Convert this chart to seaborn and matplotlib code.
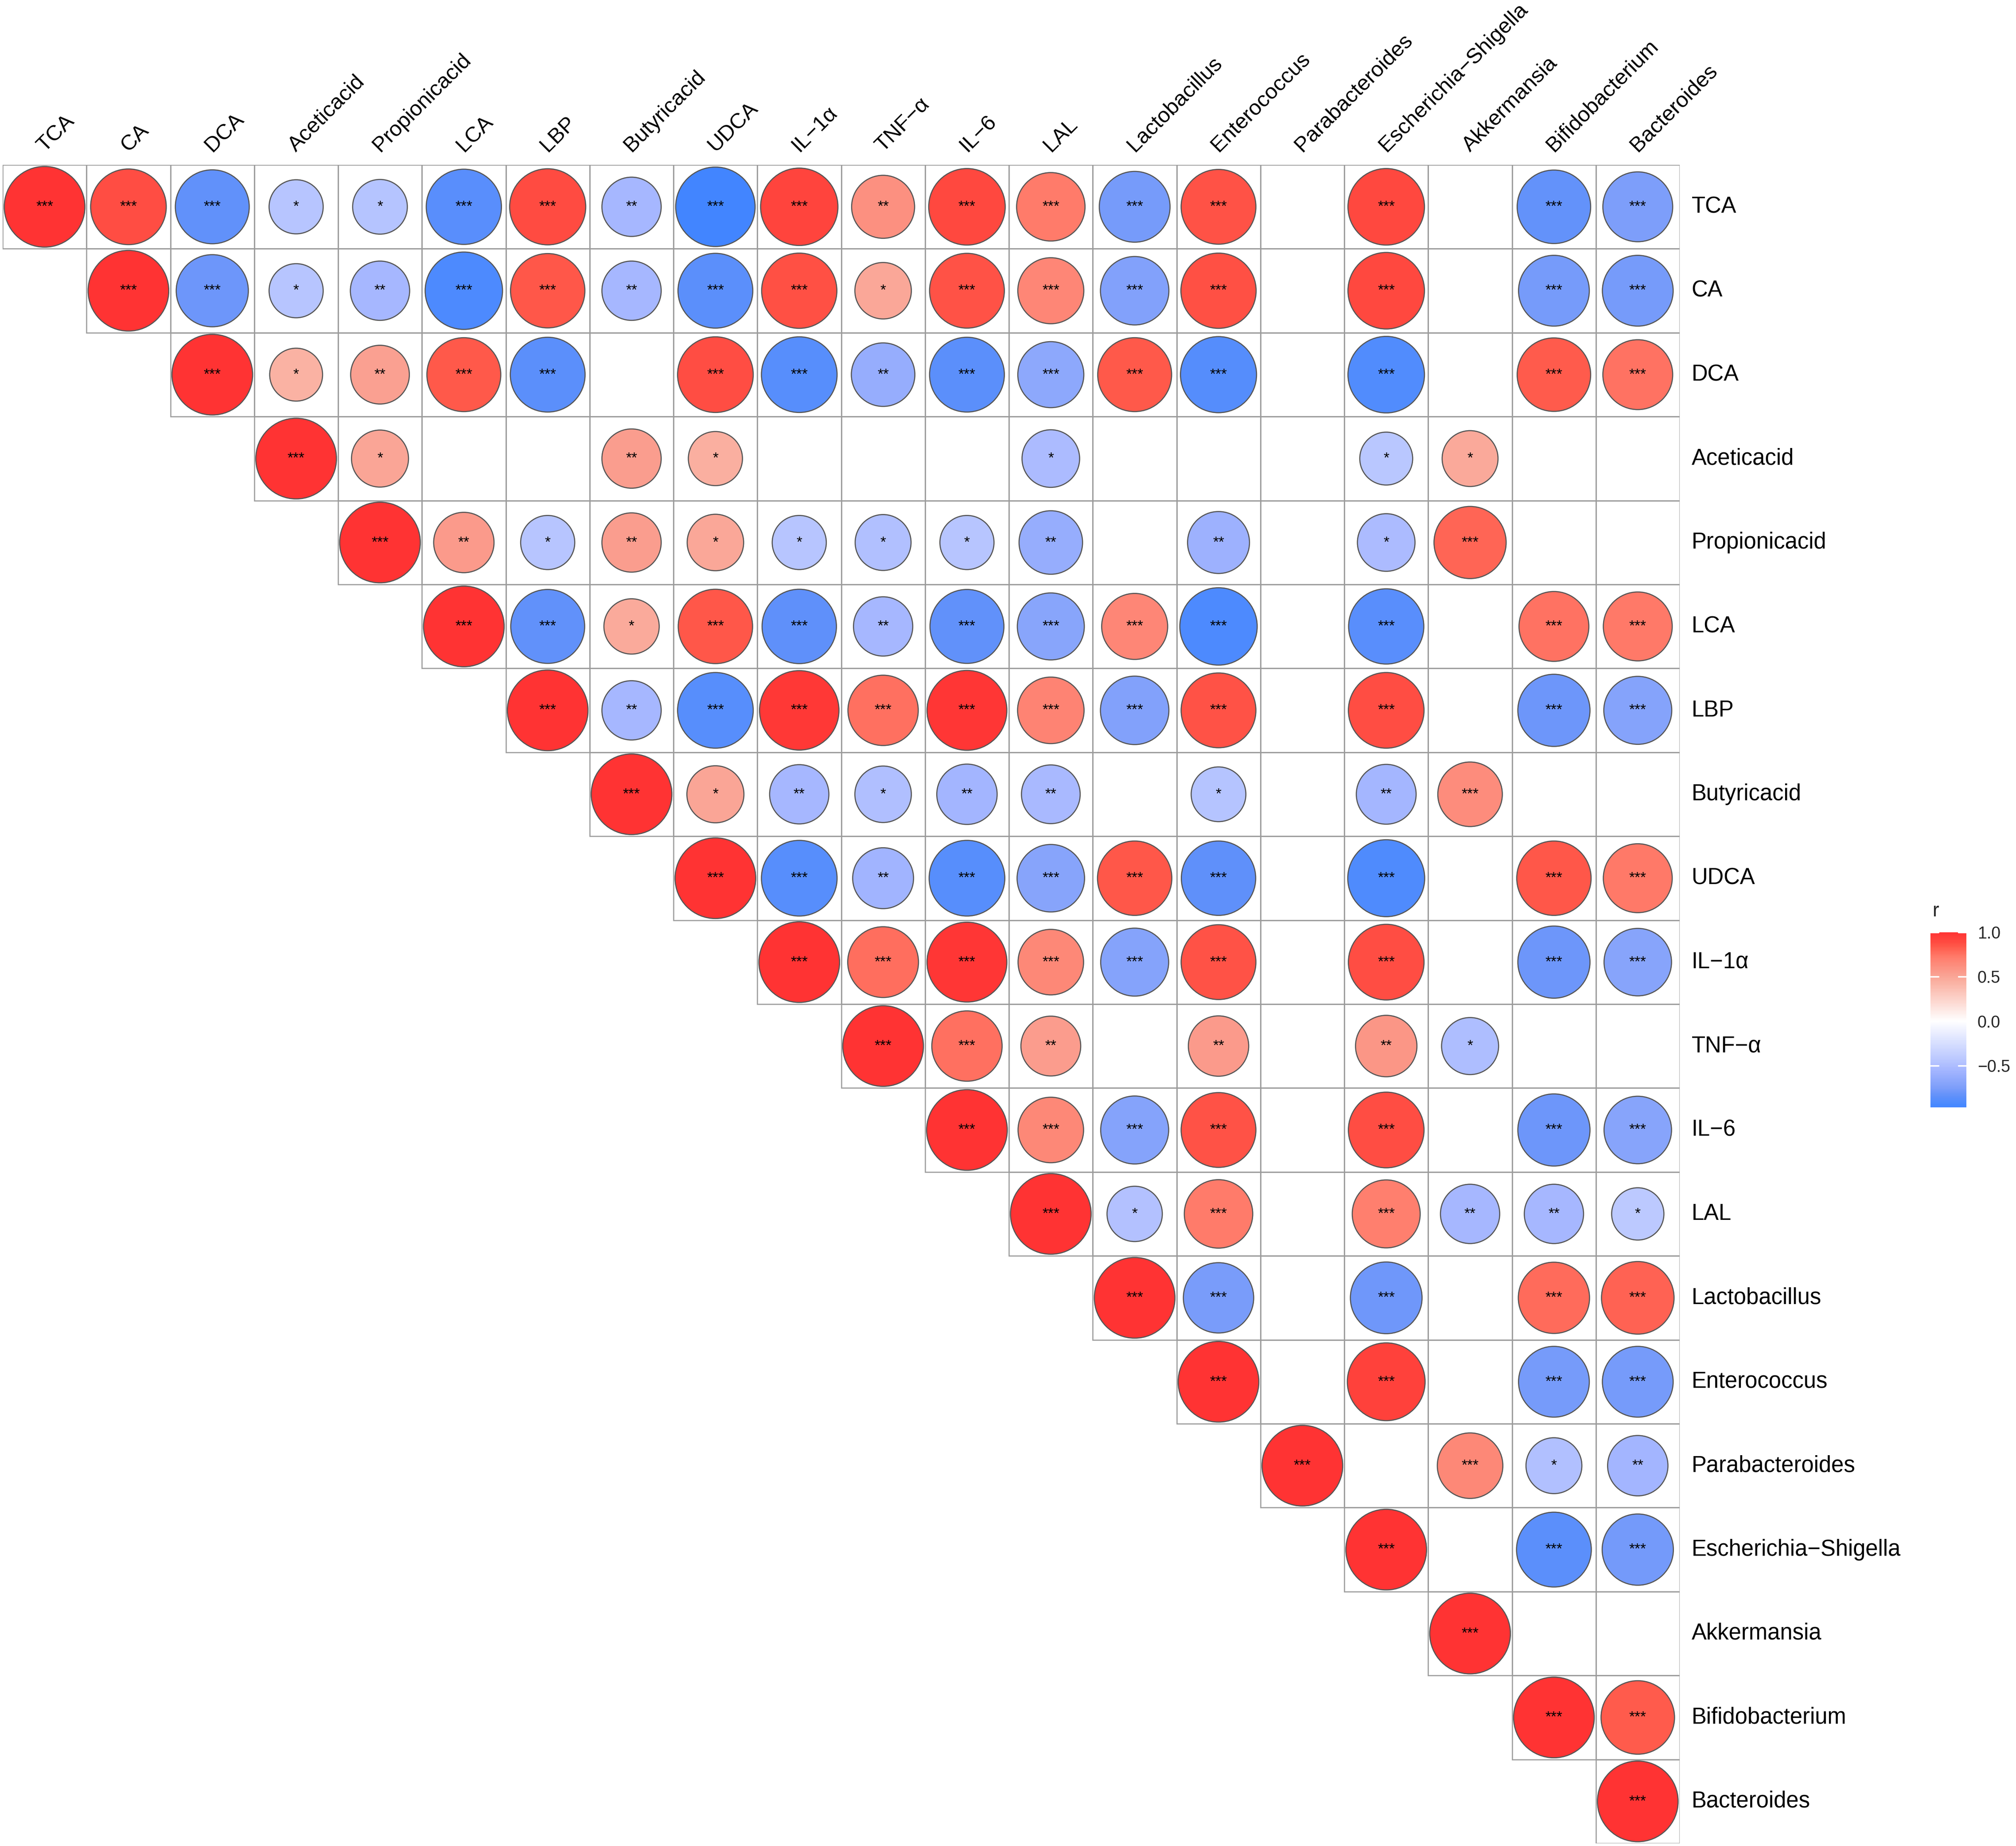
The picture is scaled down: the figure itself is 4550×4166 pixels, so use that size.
import numpy as np
import pandas as pd
import matplotlib
matplotlib.use('Agg')
import matplotlib.pyplot as plt
from matplotlib.colors import LinearSegmentedColormap, Normalize
from matplotlib.cm import ScalarMappable
from matplotlib.patches import Rectangle
import seaborn as sns

nan = np.nan

labels = ['TCA', 'CA', 'DCA', 'Aceticacid', 'Propionicacid', 'LCA', 'LBP',
          'Butyricacid', 'UDCA', 'IL−1α', 'TNF−α', 'IL−6', 'LAL',
          'Lactobacillus', 'Enterococcus', 'Parabacteroides',
          'Escherichia−Shigella', 'Akkermansia', 'Bifidobacterium', 'Bacteroides']

## upper triangle, every row starts on the diagonal; nan = not significant (blank cell)
r_TCA = [1.00, 0.88, -0.84, -0.45, -0.46, -0.87, 0.89, -0.54, -0.97, 0.92,
         0.61, 0.90, 0.72, -0.77, 0.86, nan, 0.90, nan, -0.83, -0.75]
s_TCA = ['***', '***', '***', '*', '*', '***', '***', '**', '***', '***',
         '**', '***', '***', '***', '***', '', '***', '', '***', '***']
r_CA = [1.00, -0.80, -0.45, -0.54, -0.92, 0.85, -0.54, -0.86, 0.87,
        0.49, 0.86, 0.67, -0.72, 0.87, nan, 0.90, nan, -0.77, -0.77]
s_CA = ['***', '***', '*', '**', '***', '***', '**', '***', '***',
        '*', '***', '***', '***', '***', '', '***', '', '***', '***']
r_DCA = [1.00, 0.43, 0.53, 0.84, -0.86, nan, 0.88, -0.88,
         -0.62, -0.86, -0.67, 0.84, -0.89, nan, -0.90, nan, 0.83, 0.75]
s_DCA = ['***', '*', '**', '***', '***', '', '***', '***',
         '**', '***', '***', '***', '***', '', '***', '', '***', '***']
r_Acet = [1.00, 0.50, nan, nan, 0.54, 0.45, nan,
          nan, nan, -0.51, nan, nan, nan, -0.43, 0.48, nan, nan]
s_Acet = ['***', '*', '', '', '**', '*', '',
          '', '', '*', '', '', '', '*', '*', '', '']
r_Prop = [1.00, 0.56, -0.45, 0.54, 0.49, -0.45,
          -0.48, -0.45, -0.62, nan, -0.59, nan, -0.51, 0.80, nan, nan]
s_Prop = ['***', '**', '*', '**', '*', '*',
          '*', '*', '**', '', '**', '', '*', '***', '', '']
r_LCA = [1.00, -0.84, 0.47, 0.85, -0.85,
         -0.54, -0.84, -0.69, 0.67, -0.92, nan, -0.87, nan, 0.75, 0.73]
s_LCA = ['***', '***', '*', '***', '***',
         '**', '***', '***', '***', '***', '', '***', '', '***', '***']
r_LBP = [1.00, -0.54, -0.88, 0.97,
         0.76, 0.98, 0.68, -0.72, 0.86, nan, 0.88, nan, -0.80, -0.71]
s_LBP = ['***', '**', '***', '***',
         '***', '***', '***', '***', '***', '', '***', '', '***', '***']
r_Buty = [1.00, 0.50, -0.54,
          -0.49, -0.56, -0.53, nan, -0.46, nan, -0.55, 0.64, nan, nan]
s_Buty = ['***', '*', '**',
          '*', '**', '**', '', '*', '', '**', '***', '', '']
r_UDCA = [1.00, -0.88,
          -0.57, -0.88, -0.70, 0.85, -0.85, nan, -0.91, nan, 0.85, 0.73]
s_UDCA = ['***', '***',
          '**', '***', '***', '***', '***', '', '***', '', '***', '***']
r_IL1 = [1.00, 0.77, 0.98, 0.66, -0.71, 0.86, nan, 0.88, nan, -0.80, -0.70]
s_IL1 = ['***', '***', '***', '***', '***', '***', '', '***', '', '***', '***']
r_TNF = [1.00, 0.76, 0.55, nan, 0.56, nan, 0.58, -0.50, nan, nan]
s_TNF = ['***', '***', '**', '', '**', '', '**', '*', '', '']
r_IL6 = [1.00, 0.66, -0.71, 0.86, nan, 0.88, nan, -0.80, -0.70]
s_IL6 = ['***', '***', '***', '***', '', '***', '', '***', '***']
r_LAL = [1.00, -0.47, 0.72, nan, 0.71, -0.54, -0.54, -0.42]
s_LAL = ['***', '*', '***', '', '***', '**', '**', '*']
r_Lact = [1.00, -0.76, nan, -0.79, nan, 0.78, 0.81]
s_Lact = ['***', '***', '', '***', '', '***', '***']
r_Ente = [1.00, nan, 0.93, nan, -0.77, -0.77]
s_Ente = ['***', '', '***', '', '***', '***']
r_Para = [1.00, nan, 0.66, -0.48, -0.56]
s_Para = ['***', '', '***', '*', '**']
r_Esch = [1.00, nan, -0.86, -0.78]
s_Esch = ['***', '', '***', '***']
r_Akke = [1.00, nan, nan]
s_Akke = ['***', '', '']
r_Bifi = [1.00, 0.83]
s_Bifi = ['***', '***']
r_Bact = [1.00]
s_Bact = ['***']

cbar_ticks = [1.0, 0.5, 0.0, -0.5]

r_rows = [r_TCA, r_CA, r_DCA, r_Acet, r_Prop, r_LCA, r_LBP, r_Buty, r_UDCA, r_IL1,
          r_TNF, r_IL6, r_LAL, r_Lact, r_Ente, r_Para, r_Esch, r_Akke, r_Bifi, r_Bact]
s_rows = [s_TCA, s_CA, s_DCA, s_Acet, s_Prop, s_LCA, s_LBP, s_Buty, s_UDCA, s_IL1,
          s_TNF, s_IL6, s_LAL, s_Lact, s_Ente, s_Para, s_Esch, s_Akke, s_Bifi, s_Bact]

recs = []
for i, (rr, ss) in enumerate(zip(r_rows, s_rows)):
    for k, (r, s) in enumerate(zip(rr, ss)):
        recs.append({'row': i, 'col': i + k, 'r': r, 'sig': s})
df = pd.DataFrame(recs)
df['absr'] = df['r'].abs()
pts = df.dropna(subset=['r'])

sns.set_theme(style='white')
plt.rcParams['font.family'] = ['Liberation Sans', 'DejaVu Sans']

# blue - white - red, roughly like a Lab gradient2
cmap = LinearSegmentedColormap.from_list('corr', [
    (0.0, '#3E82FF'), (0.025, '#4688FF'), (0.08, '#6291FA'), (0.125, '#7D9EFA'),
    (0.225, '#A5B6FF'), (0.275, '#B7C5FF'), (0.5, '#FFFFFF'),
    (0.725, '#FAAFA0'), (0.765, '#FAA091'), (0.86, '#FF7D6C'),
    (0.92, '#FF5A4B'), (0.945, '#FF4B41'), (1.0, '#FF3333')])
norm = Normalize(-1, 1)

W, H = 4550, 4166
fig = plt.figure(figsize=(W / 300, H / 300), dpi=300)
ax = fig.add_axes([6 / W, 1 - 4160 / H, 3785 / W, 3788 / H])
n = len(labels)

# cell borders of the upper triangle
for i in range(n):
    for j in range(i, n):
        ax.add_patch(Rectangle((j - 0.5, i - 0.5), 1, 1, fill=False,
                               ec='#9a9a9a', lw=0.6, zorder=1))

cell_pt = 3785 / 300 * 72 / n
smax = (0.975 * cell_pt - 0.6) ** 2
sns.scatterplot(data=pts, x='col', y='row', hue='r', size='absr',
                palette=cmap, hue_norm=norm, sizes=(0, smax), size_norm=(0, 1),
                edgecolor='#555555', linewidth=0.6, legend=False, zorder=3, ax=ax)

for _, p in pts.iterrows():
    if p['sig']:
        ax.text(p['col'], p['row'], p['sig'], ha='center', va='center',
                fontsize=8, color='black', zorder=4)

for j, lab in enumerate(labels):
    ax.text(j, -0.65, lab, rotation=45, rotation_mode='anchor',
            ha='left', va='baseline', fontsize=11.7, color='black')
for i, lab in enumerate(labels):
    ax.text(n - 0.5 + 0.14, i, lab, ha='left', va='center',
            fontsize=12.2, color='black')

ax.set_xlim(-0.5, n - 0.5)
ax.set_ylim(n - 0.5, -0.5)
ax.axis('off')

# colour bar
cax = fig.add_axes([4357 / W, 1 - 2499 / H, 81 / W, 395 / H])
rmin = np.nanmin(df['r'])
cb = fig.colorbar(ScalarMappable(norm=norm, cmap=cmap), cax=cax,
                  boundaries=np.linspace(rmin, 1.0, 300))
cb.outline.set_visible(False)
cb.set_ticks(cbar_ticks)
cb.set_ticklabels([f'{t:.1f}'.replace('-', '−') for t in cbar_ticks])
cax.tick_params(length=0, pad=6, labelsize=9)
for t in cbar_ticks:
    cax.axhline(t, 0, 0.22, color='white', lw=0.8)
    cax.axhline(t, 0.78, 1, color='white', lw=0.8)
cax.text(0.06, 1.09, 'r', transform=cax.transAxes, fontsize=10.5, va='baseline')

fig.savefig('out.png', dpi=300)
